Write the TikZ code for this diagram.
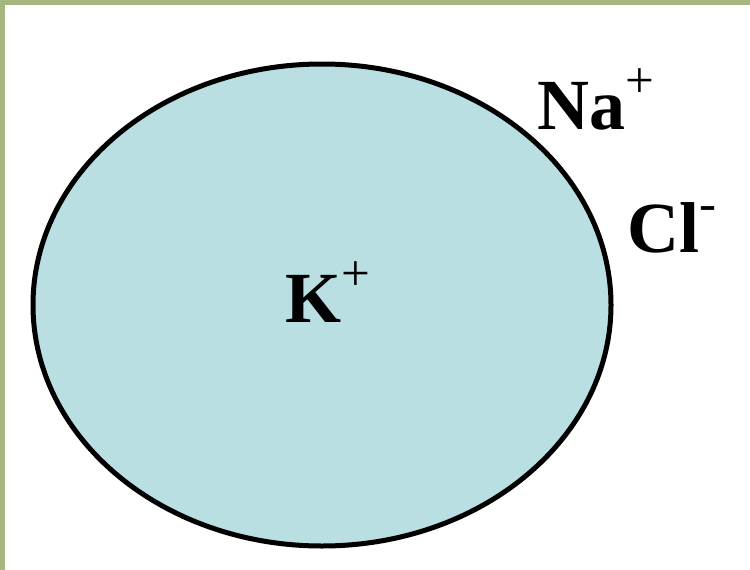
\documentclass[tikz,border=0pt]{standalone}
\usepackage{fontspec}
\setmainfont{Liberation Serif}
\usetikzlibrary{shapes.geometric}
\definecolor{frame}{RGB}{166,182,128}
\definecolor{cytosol}{RGB}{185,223,227}
\newcommand{\ionsup}[1]{\raisebox{32pt}{\fontsize{51}{51}\selectfont\mdseries #1}}

\begin{document}
\begin{tikzpicture}[x=1pt, y=-1pt,
    ion/.style = {anchor=base west, inner sep=0pt, font=\fontsize{72}{74}\selectfont\bfseries}
    ]
            \useasboundingbox (0,0) rectangle (750,570);
            \fill[frame] (0,0) rectangle (750,4.5);
            \fill[frame] (0,0) rectangle (5,570);
            \node[ellipse, draw, line width=5pt, fill=cytosol,
                  minimum width=578pt, minimum height=482pt, inner sep=0pt]
                  (cell) at (322,305) {};
            \node[ion] (potassium) at (285,322) {K\ionsup{+}};
            \node[ion] (sodium) at (537,129) {Na\ionsup{+}};
            \node[ion] (chloride) at (627,252) {Cl\ionsup{-}};
        \end{tikzpicture}
\end{document}
